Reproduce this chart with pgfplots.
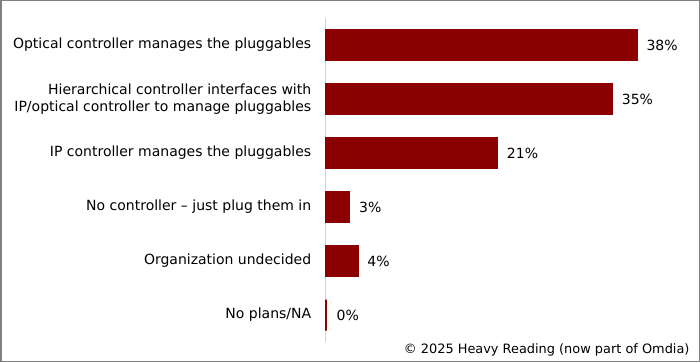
\documentclass[border=0pt]{standalone}
\usepackage{pgfplots}
\pgfplotsset{compat=1.18}
\usepackage{fontspec}
\setmainfont{DejaVu Sans}
\definecolor{barred}{RGB}{139,0,0}
\definecolor{framegrey}{RGB}{128,128,128}
\definecolor{axisgrey}{RGB}{210,210,210}

\begin{document}
\begin{tikzpicture}[x=1pt,y=1pt]
\useasboundingbox (0,0) rectangle (700,362);
\draw[framegrey, line width=1.5pt] (0.75,0.75) rectangle (699.25,361.25);
\begin{axis}[
  at={(325pt,20pt)}, anchor=south west,
  scale only axis, width=328.4pt, height=324pt,
  xbar, bar width=31pt, bar shift=0pt,
  xmin=0, xmax=40, ymin=-0.5, ymax=5.5, y dir=reverse,
  axis x line=none,
  axis y line*=left,
  y axis line style={axisgrey, line width=0.8pt, -},
  ytick={0,1,2,3,4,5},
  yticklabels={Optical controller manages the pluggables,
    {Hierarchical controller interfaces with\\IP/optical controller to manage pluggables},
    IP controller manages the pluggables,
    No controller – just plug them in,
    Organization undecided,
    No plans/NA},
  ytick style={draw=none},
  yticklabel style={align=right, font=\fontsize{14}{17.5}\selectfont, text=black, xshift=-6pt},
  /pgf/number format/assume math mode=true,
  nodes near coords={\pgfmathprintnumber{\pgfplotspointmeta}\%},
  nodes near coords style={font=\fontsize{14}{16}\selectfont, text=black, anchor=west, xshift=6pt},
  clip=false,
]
% survey shares, in percent
\addplot[fill=barred, draw=barred, line width=0.5pt] coordinates {
  (38,0) (35,1) (21,2) (3,3) (4,4)
};
% the empty category keeps a thin visible bar
\addplot[fill=barred, draw=barred, line width=2.4pt, xshift=1.2pt] coordinates {
  (0,5)
};
\end{axis}
\node[anchor=base east, font=\fontsize{12.9}{15}\selectfont] at (693,9) {© 2025 Heavy Reading (now part of Omdia)};
\end{tikzpicture}
\end{document}
